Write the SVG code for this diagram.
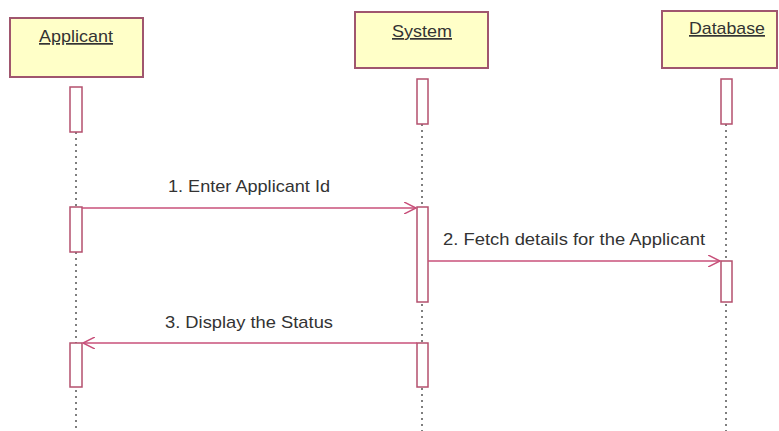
<svg xmlns="http://www.w3.org/2000/svg" width="779" height="431" viewBox="0 0 779 431">
<style>
.obj{fill:#ffffc8;stroke:#a0566e;stroke-width:2}
.act{fill:#ffffff;stroke:#b4506e;stroke-width:1.5}
.life{stroke:#555;stroke-width:1.5;stroke-dasharray:2 4}
.msg{stroke:#c8507a;stroke-width:1.5;fill:none}
.t{font-family:"Liberation Sans",Arial,sans-serif;font-size:17px;fill:#333;text-anchor:middle}
.u{text-decoration:underline}
</style>
<defs>
<marker id="open" markerWidth="14" markerHeight="12" refX="12" refY="6" orient="auto" markerUnits="userSpaceOnUse">
<path d="M0,0 L12,6 L0,12" fill="none" stroke="#c8507a" stroke-width="1.5"/>
</marker>
</defs>
<rect width="779" height="431" fill="#fff"/>
<g id="lifelines">
<line class="life" x1="76" y1="132" x2="76" y2="431"/>
<line class="life" x1="422" y1="124" x2="422" y2="431"/>
<line class="life" x1="726" y1="124" x2="726" y2="431"/>
</g>
<g id="applicant">
<rect class="obj" x="10" y="18" width="133" height="59"/>
<text class="t u" x="76" y="42" textLength="74" lengthAdjust="spacingAndGlyphs">Applicant</text>
<rect class="act" x="70" y="87" width="12" height="45"/>
<rect class="act" x="70" y="207" width="12" height="45"/>
<rect class="act" x="70" y="343" width="12" height="44"/>
</g>
<g id="system">
<rect class="obj" x="355" y="12" width="133" height="56"/>
<text class="t u" x="422" y="37" textLength="60" lengthAdjust="spacingAndGlyphs">System</text>
<rect class="act" x="417" y="79" width="11" height="45"/>
<rect class="act" x="417" y="207" width="11" height="95"/>
<rect class="act" x="417" y="343" width="11" height="44"/>
</g>
<g id="database">
<rect class="obj" x="662" y="11" width="115" height="57"/>
<text class="t u" x="727" y="34" textLength="76" lengthAdjust="spacingAndGlyphs">Database</text>
<rect class="act" x="721" y="79" width="11" height="45"/>
<rect class="act" x="721" y="261" width="11" height="41"/>
</g>
<g id="connectors">
<line class="msg" x1="82" y1="208" x2="416" y2="208" marker-end="url(#open)"/>
<text class="t" x="249" y="192" textLength="162" lengthAdjust="spacingAndGlyphs">1. Enter Applicant Id</text>
<line class="msg" x1="428" y1="261" x2="720" y2="261" marker-end="url(#open)"/>
<text class="t" x="574" y="245" textLength="262" lengthAdjust="spacingAndGlyphs">2. Fetch details for the Applicant</text>
<line class="msg" x1="417" y1="343" x2="83" y2="343" marker-end="url(#open)"/>
<text class="t" x="249" y="328" textLength="168" lengthAdjust="spacingAndGlyphs">3. Display the Status</text>
</g>
</svg>
